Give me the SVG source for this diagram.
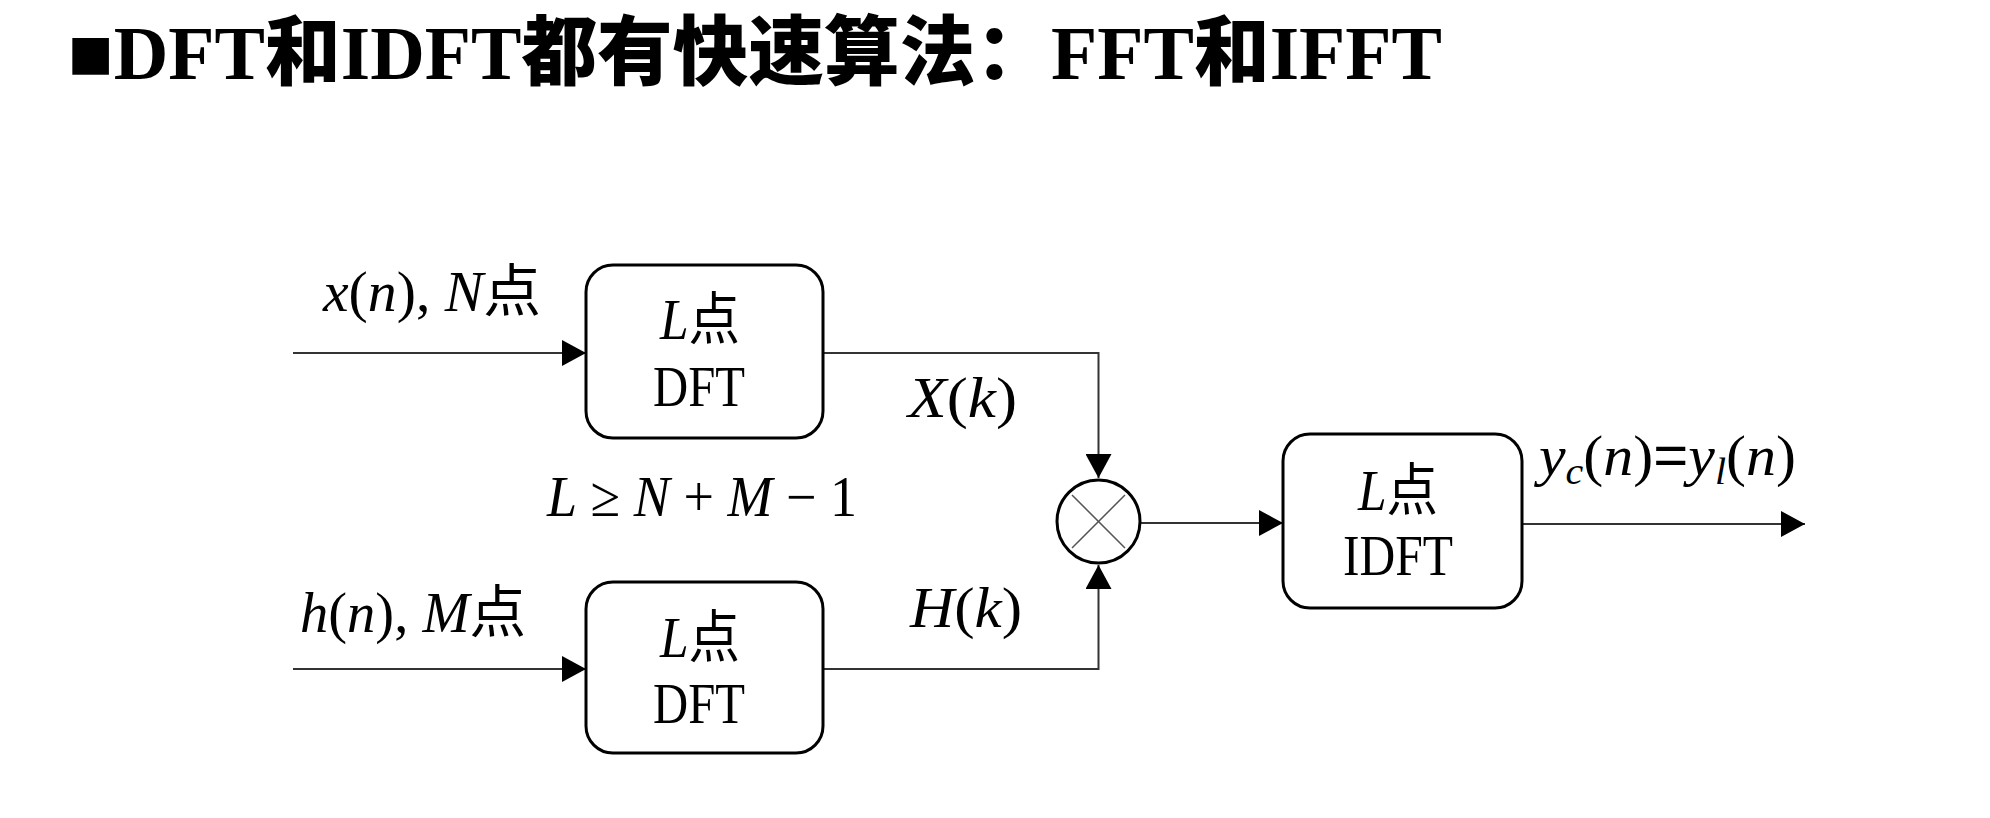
<svg xmlns="http://www.w3.org/2000/svg" width="1990" height="818" viewBox="0 0 1990 818">
<style>
  .t { font-family: "Liberation Serif", "Noto Sans CJK SC", serif; fill: #000; }
  .m { font-size: 57px; }
  .u { font-size: 56px; }
  .i { font-style: italic; }
  .box { fill: #fff; stroke: #000; stroke-width: 3; }
  .con { fill: none; stroke: #333; stroke-width: 2; }
  .title { font-family: "Liberation Serif", "Noto Sans CJK SC", serif; font-size: 76px; font-weight: 900; fill: #000; }
</style>
<defs>
  <marker id="arr" markerWidth="24" markerHeight="26" refX="24" refY="13" orient="auto" markerUnits="userSpaceOnUse">
    <path d="M0,0 L24,13 L0,26 z" fill="#000"/>
  </marker>
</defs>
<rect width="1990" height="818" fill="#fff"/>

<text id="title" class="title" x="68" y="79" textLength="1374" lengthAdjust="spacingAndGlyphs">■DFT和IDFT都有快速算法：FFT和IFFT</text>

<g id="connectors">
  <line class="con" x1="293" y1="353" x2="586" y2="353" marker-end="url(#arr)"/>
  <line class="con" x1="293" y1="669" x2="586" y2="669" marker-end="url(#arr)"/>
  <polyline class="con" points="823,353 1098.5,353 1098.5,478" marker-end="url(#arr)"/>
  <polyline class="con" points="823,669 1098.5,669 1098.5,565" marker-end="url(#arr)"/>
  <line class="con" x1="1141" y1="523" x2="1283" y2="523" marker-end="url(#arr)"/>
  <line class="con" x1="1522" y1="524" x2="1805" y2="524" marker-end="url(#arr)"/>
</g>

<g id="labels">
  <text class="t m" x="323" y="311" textLength="218" lengthAdjust="spacingAndGlyphs"><tspan class="i">x</tspan>(<tspan class="i">n</tspan>), <tspan class="i">N</tspan>点</text>
  <text class="t m" x="300" y="632" textLength="226" lengthAdjust="spacingAndGlyphs"><tspan class="i">h</tspan>(<tspan class="i">n</tspan>), <tspan class="i">M</tspan>点</text>
  <text class="t m" x="908" y="417" textLength="109" lengthAdjust="spacingAndGlyphs"><tspan class="i">X</tspan>(<tspan class="i">k</tspan>)</text>
  <text class="t m" x="910" y="627" textLength="112" lengthAdjust="spacingAndGlyphs"><tspan class="i">H</tspan>(<tspan class="i">k</tspan>)</text>
  <text class="t m" x="547" y="516" textLength="310" lengthAdjust="spacingAndGlyphs"><tspan class="i">L</tspan> ≥ <tspan class="i">N</tspan> + <tspan class="i">M</tspan> − 1</text>
  <text class="t m" x="1539" y="475" textLength="257" lengthAdjust="spacingAndGlyphs"><tspan class="i">y</tspan><tspan class="i" font-size="38" dy="9">c</tspan><tspan dy="-9">(</tspan><tspan class="i">n</tspan>)<tspan font-family="Liberation Sans, sans-serif">=</tspan><tspan class="i">y</tspan><tspan class="i" font-size="38" dy="9">l</tspan><tspan dy="-9">(</tspan><tspan class="i">n</tspan>)</text>
</g>

<g id="dft-x">
  <rect class="box" x="586" y="265" width="237" height="173" rx="27"/>
  <text class="t m" x="660" y="339" textLength="80" lengthAdjust="spacingAndGlyphs"><tspan class="i">L</tspan>点</text>
  <text class="t u" x="653" y="406" textLength="92" lengthAdjust="spacingAndGlyphs">DFT</text>
</g>

<g id="dft-h">
  <rect class="box" x="586" y="582" width="237" height="171" rx="27"/>
  <text class="t m" x="660" y="657" textLength="80" lengthAdjust="spacingAndGlyphs"><tspan class="i">L</tspan>点</text>
  <text class="t u" x="653" y="723" textLength="92" lengthAdjust="spacingAndGlyphs">DFT</text>
</g>

<g id="multiplier">
  <circle cx="1098.5" cy="521.5" r="41.5" fill="#fff" stroke="#000" stroke-width="3"/>
  <line x1="1072" y1="495" x2="1125" y2="548" stroke="#555" stroke-width="1.5"/>
  <line x1="1125" y1="495" x2="1072" y2="548" stroke="#555" stroke-width="1.5"/>
</g>

<g id="idft">
  <rect class="box" x="1283" y="434" width="239" height="174" rx="27"/>
  <text class="t m" x="1358" y="510" textLength="80" lengthAdjust="spacingAndGlyphs"><tspan class="i">L</tspan>点</text>
  <text class="t u" x="1343" y="575" textLength="110" lengthAdjust="spacingAndGlyphs">IDFT</text>
</g>
</svg>
